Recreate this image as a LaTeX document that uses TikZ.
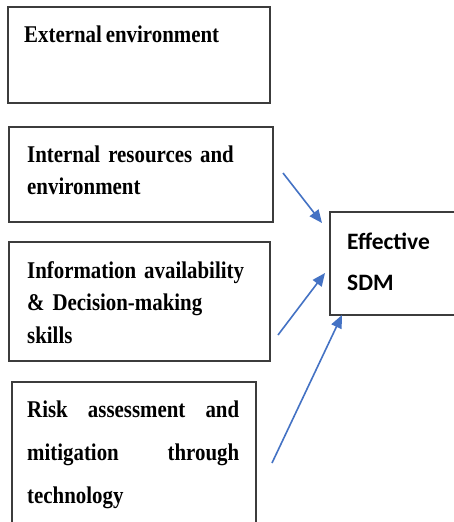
\documentclass[tikz,border=0pt]{standalone}
\usepackage{fontspec}
\setmainfont{Liberation Serif}
\newfontfamily\boxfont[FakeStretch=0.87,WordSpace=0.75]{Liberation Serif}
\newfontfamily\sdmfont{Carlito}
\usetikzlibrary{arrows.meta,positioning,calc}
\definecolor{arrowblue}{RGB}{68,114,196}
\definecolor{edgegray}{RGB}{60,60,60}

\begin{document}
\begin{tikzpicture}
  [x=1pt,y=-1pt,
   factorN/.style={draw=edgegray,line width=1.3pt,inner sep=0pt,outer sep=0pt},
   factorT/.style={inner sep=0pt,anchor=base west,align=left,
     font=\boxfont\bfseries\fontsize{24}{32.5}\selectfont},
   link/.style={draw=arrowblue,line width=1.6pt,-{Triangle[length=13pt,width=11pt]}}]

  \clip (0,0) rectangle (454,522);
  \fill[white] (0,0) rectangle (454,522);

  % the four factor boxes and the outcome box
  \node[factorN,minimum width=262,minimum height=96]  (ext)  at (139,55)    {};
  \node[factorN,minimum width=264,minimum height=95]  (int)  at (141,174.5) {};
  \node[factorN,minimum width=261,minimum height=119] (info) at (139.5,301.5) {};
  \node[factorN,minimum width=244,minimum height=158] (risk) at (134,461)   {};
  \node[factorN,minimum width=140,minimum height=103] (sdm)  at (400,263.5) {};

  \node[factorT] (extT) at (24,42) {External environment};
  \node[factorT,text width=240] (intT) at (27,162) {Internal resources and\\environment};
  \node[factorT,text width=240] (infoT) at (27,278) {Information availability\\\& Decision-making\\skills};
  \node[factorT,text width=212,align=justify,
        font=\boxfont\bfseries\fontsize{24}{43}\selectfont] (riskT) at (27,417)
        {Risk\hfill assessment\hfill and\\mitigation\hfill through\\technology};
  \node[inner sep=0pt,anchor=base west,align=left,text width=90,
        font=\sdmfont\bfseries\fontsize{23.5}{41}\selectfont] (sdmT) at (347,249) {Effective\\SDM};

  % arrows into the outcome
  \coordinate (intOut)  at (283,173);
  \coordinate (intIn)   at (322,223);
  \coordinate (infoOut) at (278,335);
  \coordinate (infoIn)  at (325,273);
  \coordinate (riskOut) at (272,463);
  \coordinate (riskIn)  at (342,315);

  \draw[link] (intOut) -- (intIn);
  \draw[link] (infoOut) -- (infoIn);
  \draw[link] (riskOut) -- (riskIn);

\end{tikzpicture}
\end{document}
